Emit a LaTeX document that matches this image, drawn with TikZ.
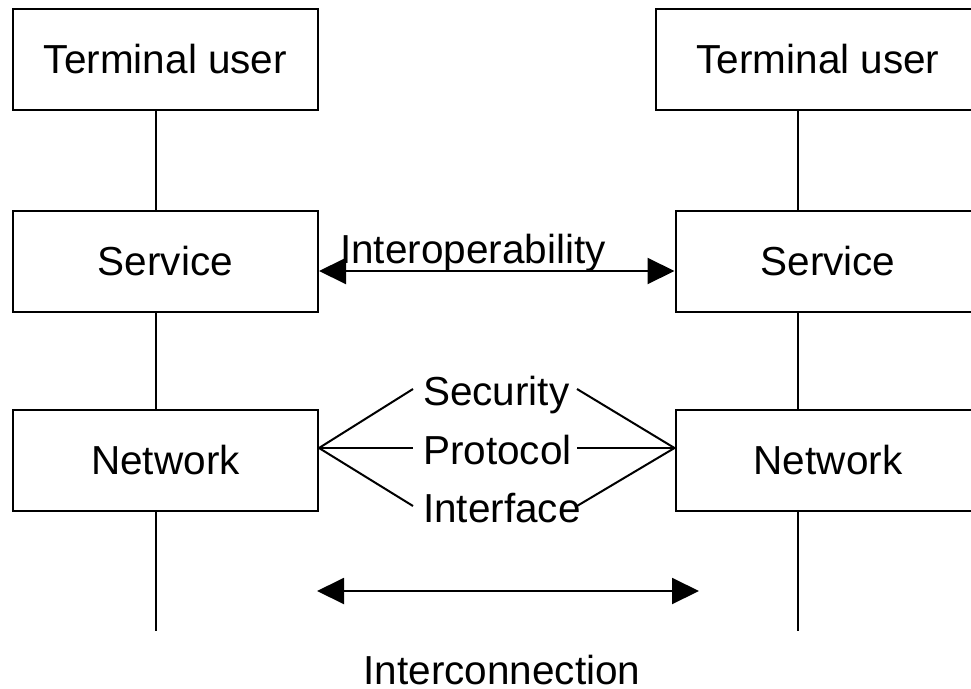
\documentclass[tikz,border=0pt]{standalone}
\usepackage{fontspec}
\setmainfont{Liberation Sans}
\usetikzlibrary{arrows.meta}
\begin{document}
\begin{tikzpicture}[x=1pt,y=-1pt,line width=2pt,>={Triangle[length=27pt,width=26pt]},
  every node/.style={font=\fontsize{40.5}{48}\selectfont},
  box/.style={draw,minimum width=305pt,minimum height=101pt,inner sep=0pt},
  item/.style={anchor=base west,inner sep=0pt,text width=153pt,align=left,text height=34pt,text depth=2pt}]
\useasboundingbox (0,0) rectangle (971,688);
% left column
\node[box] (termL) at (165.5,59.5){Terminal user};
\node[box] (servL) at (165.5,261){Service};
\node[box] (netL) at (165.5,460){Network};
% right column
\node[box,minimum width=325pt] (termR) at (818,59.5){Terminal user};
\node[box] (servR) at (828,261){Service};
\node[box] (netR) at (828,460){Network};
\coordinate (botL) at (156,631);
\coordinate (botR) at (797.7,631);
\foreach \c in {L,R}
{
    \draw (term\c.south -| bot\c)--(serv\c.north -| bot\c);
    \draw (serv\c.south -| bot\c)--(net\c.north -| bot\c);
    \draw (net\c.south -| bot\c)--(bot\c);
}
% interoperability
\draw[<->]([yshift=-10pt]servL.east)--([yshift=-10pt]servR.west);
\node[anchor=base,inner sep=0pt] (iop) at (473,263){Interoperability};
% security, protocol, interface
\coordinate (hubL) at ([yshift=12pt]netL.east);
\coordinate (hubR) at ([yshift=12pt]netR.west);
\foreach \n/\y/\t in {sec/405/Security,prot/464/Protocol,intf/522/Interface}
{
    \node[item] (\n) at (422,\y){\t};
    \draw (hubL)--([xshift=-9pt]\n.west);
    \draw (\n.east)--(hubR);
}
% interconnection
\coordinate (icL) at (317,591);
\coordinate (icR) at (699,591);
\draw[<->](icL)--(icR);
\node[anchor=base,inner sep=0pt] (icn) at (502,684){Interconnection};
\end{tikzpicture}
\end{document}
